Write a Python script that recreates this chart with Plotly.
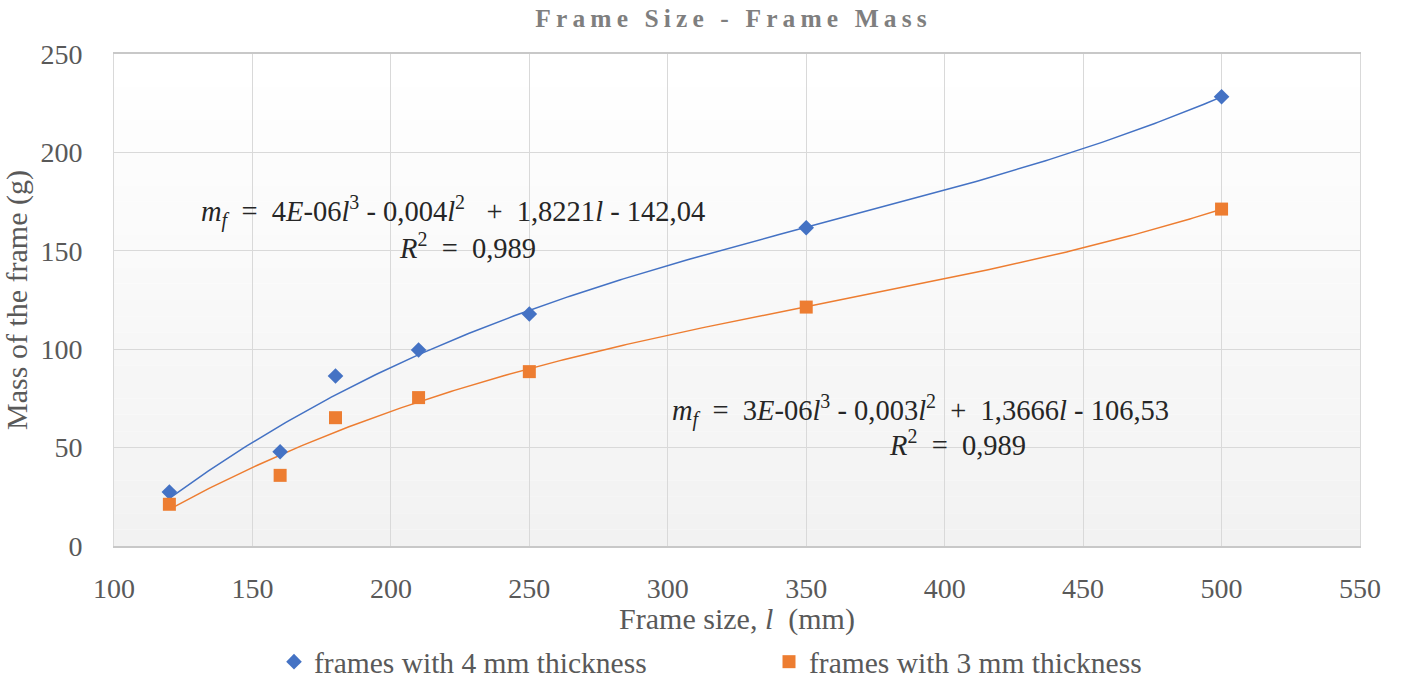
import numpy as np
import plotly.graph_objects as go

# ---- data ----
frame_size = [120, 160, 180, 210, 250, 350, 500]
mass_4mm = [27.4, 47.9, 86.4, 99.6, 117.9, 161.7, 228.3]
mass_3mm = [21.2, 35.9, 65.2, 75.4, 88.6, 121.4, 171.2]
name_4mm = "frames with 4 mm thickness"
name_3mm = "frames with 3 mm thickness"
x_ticks = [100, 150, 200, 250, 300, 350, 400, 450, 500, 550]
y_ticks = [0, 50, 100, 150, 200, 250]
title_text = "Frame Size - Frame Mass"

eq_4mm_line1 = ("<i>m</i><sub><i>f</i></sub>  =  4<i>E</i>-06<i>l</i><sup>3</sup> - 0,004<i>l</i><sup>2</sup>"
                "   +  1,8221<i>l</i> - 142,04")
eq_3mm_line1 = ("<i>m</i><sub><i>f</i></sub>  =  3<i>E</i>-06<i>l</i><sup>3</sup> - 0,003<i>l</i><sup>2</sup>"
                "  +  1,3666<i>l</i> - 106,53")
r2_text = "<i>R</i><sup>2</sup>  =  0,989"

BLUE = "#4472C4"
ORANGE = "#ED7D31"
SERIF = "Liberation Serif"

# polynomial (order 3) trendlines fitted to the data
xs = np.linspace(min(frame_size), max(frame_size), 300)
fit4 = np.polyval(np.polyfit(frame_size, mass_4mm, 3), xs)
fit3 = np.polyval(np.polyfit(frame_size, mass_3mm, 3), xs)

fig = go.Figure()
fig.add_trace(go.Scatter(x=xs, y=fit4, mode="lines", line=dict(color=BLUE, width=1.5),
                         showlegend=False, hoverinfo="skip"))
fig.add_trace(go.Scatter(x=xs, y=fit3, mode="lines", line=dict(color=ORANGE, width=1.5),
                         showlegend=False, hoverinfo="skip"))
fig.add_trace(go.Scatter(x=frame_size, y=mass_4mm, mode="markers", name=name_4mm,
                         marker=dict(symbol="diamond", size=12, color=BLUE)))
fig.add_trace(go.Scatter(x=frame_size, y=mass_3mm, mode="markers", name=name_3mm,
                         marker=dict(symbol="square", size=13, color=ORANGE)))

# gradient plot background (white -> light gray)
n = 30
for i in range(n):
    t = i / (n - 1)
    c = int(round(255 - 13 * t))
    fig.add_shape(type="rect", xref="paper", yref="paper",
                  x0=0, x1=1, y0=1 - (i + 1) / n, y1=1 - i / n,
                  fillcolor=f"rgb({c},{c},{c})", line=dict(width=0), layer="below")

eq_font = dict(family=SERIF, size=28.5, color="#262626")
fig.add_annotation(x=222.6, y=170.2, xref="x", yref="y", text=eq_4mm_line1, showarrow=False,
                   font=eq_font)
fig.add_annotation(x=227.8, y=152.6, xref="x", yref="y", text=r2_text, showarrow=False,
                   font=eq_font)
fig.add_annotation(x=391.1, y=69.1, xref="x", yref="y", text=eq_3mm_line1, showarrow=False,
                   font=eq_font)
fig.add_annotation(x=404.8, y=52.5, xref="x", yref="y", text=r2_text, showarrow=False,
                   font=eq_font)

# letter-spaced bold title
spaced_title = "\u2009".join(list(title_text))

fig.update_layout(
    width=1401, height=682,
    margin=dict(l=114, r=41, t=54, b=136),
    paper_bgcolor="white", plot_bgcolor="rgba(0,0,0,0)",
    title=dict(text=f"<b>{spaced_title}</b>", x=731 / 1401, xanchor="center",
               xref="container", y=1 - 18 / 682, yref="container", yanchor="middle",
               font=dict(family=SERIF, size=25.5, color="#7f7f7f")),
    font=dict(family=SERIF, size=28, color="#595959"),
    legend=dict(orientation="h", x=274 / 1401, xanchor="left", xref="container",
                y=1 - 662 / 682, yref="container", yanchor="middle",
                font=dict(family=SERIF, size=29.5, color="#595959"),
                entrywidth=450, entrywidthmode="pixels", itemwidth=30,
                bgcolor="rgba(0,0,0,0)"),
    showlegend=True,
)
fig.update_xaxes(range=[100, 550], tickvals=x_ticks, showgrid=True, gridcolor="#d9d9d9",
                 gridwidth=1, showline=True, linecolor="#c8c8c8", linewidth=1.5, mirror=True,
                 zeroline=False, ticks="", ticklabelstandoff=17, automargin=False,
                 tickfont=dict(family=SERIF, size=28, color="#595959"),
                 title=dict(text="Frame size, <i>l</i>  (mm)", standoff=3,
                            font=dict(family=SERIF, size=30, color="#595959")))
fig.update_yaxes(range=[0, 250], tickvals=y_ticks, showgrid=True, gridcolor="#d9d9d9",
                 gridwidth=1, showline=True, linecolor="#d9d9d9", linewidth=1, mirror=True,
                 zeroline=False, ticks="", ticklabelstandoff=25, automargin=False,
                 tickfont=dict(family=SERIF, size=28, color="#595959"),
                 title=dict(text="Mass of the frame (g)", standoff=4,
                            font=dict(family=SERIF, size=30, color="#595959")))

fig.write_html("out.html")
